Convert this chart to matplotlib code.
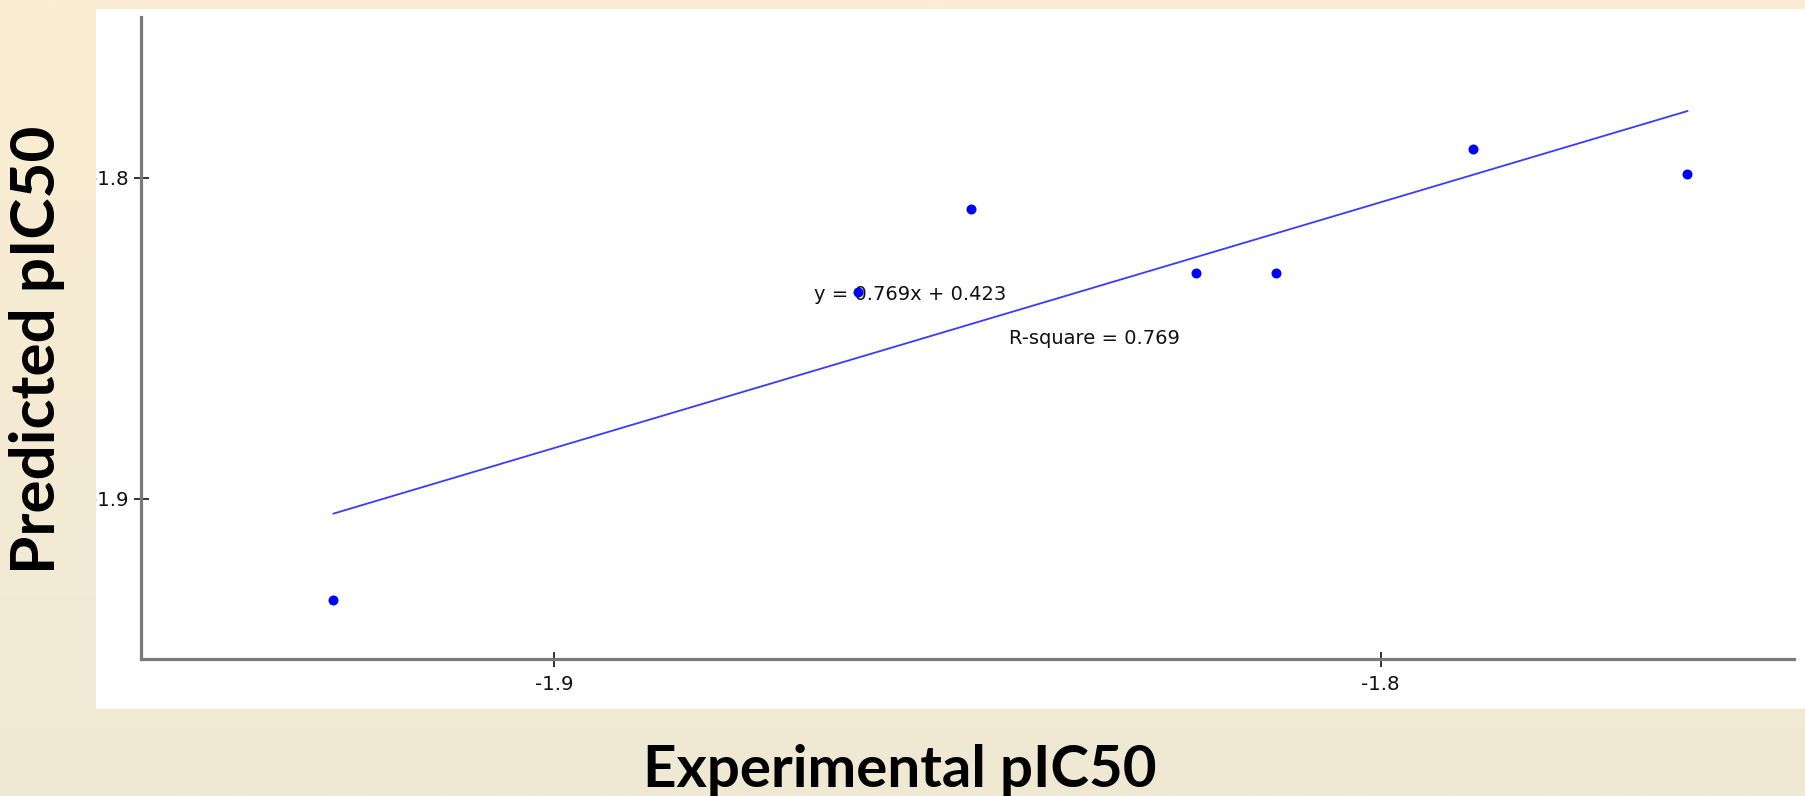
import numpy as np
import matplotlib
matplotlib.use('Agg')
import matplotlib.pyplot as plt
from matplotlib.patches import Rectangle

# ---- data ----
exp_pic50 = [-1.9268, -1.8633, -1.8496, -1.8223, -1.8127, -1.7888, -1.7629]
pred_pic50 = [-1.9315, -1.8357, -1.8099, -1.8296, -1.8299, -1.7910, -1.7988]
fit_x = [-1.9267, -1.7629]
fit_y = [-1.9047, -1.7793]
x_ticks = [-1.9, -1.8]
y_ticks = [-1.9, -1.8]
x_tick_labels = ['-1.9', '-1.8']
y_tick_labels = ['-1.9', '-1.8']
equation_text = 'y = 0.769x + 0.423'
r2_text = 'R-square = 0.769'
x_label = 'Experimental pIC50'
y_label = 'Predicted pIC50'

plt.rcParams['axes.unicode_minus'] = False

W, H = 1806, 796
fig = plt.figure(figsize=(W / 100, H / 100), dpi=100)

# ---- background gradient ----
top_c = np.array([251, 237, 211]) / 255.0
bot_c = np.array([239, 233, 213]) / 255.0
g = np.linspace(0, 1, 256)[:, None, None]
grad_img = top_c[None, None, :] * (1 - g) + bot_c[None, None, :] * g

bg = fig.add_axes([0, 0, 1, 1], zorder=-10)
bg.imshow(grad_img, aspect='auto', extent=[0, 1, 0, 1], interpolation='bilinear')
bg.set_xlim(0, 1); bg.set_ylim(0, 1)
bg.set_axis_off()
bg.add_patch(Rectangle((96 / W, 1 - 709 / H), 1 - 96 / W, (709 - 9) / H,
                       transform=bg.transAxes, facecolor='white', edgecolor='none'))

# ---- main axes ----
ax_l, ax_r, ax_t, ax_b = 141, 1794, 17, 659
ax = fig.add_axes([ax_l / W, 1 - ax_b / H, (ax_r - ax_l) / W, (ax_b - ax_t) / H], zorder=0)
ax.set_facecolor('none')
ax.set_xlim(-1.95, -1.75)
ax.set_ylim(-1.95, -1.75)

for s in ['top', 'right']:
    ax.spines[s].set_visible(False)
for s in ['left', 'bottom']:
    ax.spines[s].set_color('#7a7a7a')
    ax.spines[s].set_linewidth(2.3)

ax.set_xticks(x_ticks, labels=x_tick_labels)
ax.set_yticks(y_ticks, labels=y_tick_labels)
ax.tick_params(axis='both', direction='inout', length=10.8, width=1.3, color='#222222',
               labelsize=14.2, labelcolor='#111111')
ax.tick_params(axis='x', pad=6.0)
ax.tick_params(axis='y', pad=3.6)

ax.plot(fit_x, fit_y, color='#3a3aff', lw=1.3, zorder=2)
ax.plot(exp_pic50, pred_pic50, 'o', color='#0000ff', ms=7.2, mec='none', zorder=3)

ax.text(-1.8686, -1.8364, equation_text, fontsize=14.0, color='#111111',
        ha='left', va='center', zorder=1)
ax.text(-1.8450, -1.8502, r2_text, fontsize=14.0, color='#111111',
        ha='left', va='center', zorder=1)

# ---- left strip overlay (clips the tick-label minus sign like the reference) ----
strip = fig.add_axes([0, 0, 96 / W, 1], zorder=5)
strip.imshow(grad_img, aspect='auto', extent=[0, 1, 0, 1], interpolation='bilinear')
strip.set_xlim(0, 1); strip.set_ylim(0, 1)
strip.set_axis_off()

# ---- axis titles (figure text, fitted to the reference widths) ----
lab_font = ['Lato', 'DejaVu Sans']
xl = fig.text(900 / W, 1 - 787 / H, x_label, fontsize=40, fontweight='bold',
              family=lab_font, ha='center', va='baseline', color='black', zorder=10)
yl = fig.text(37 / W, 1 - 350 / H, y_label, fontsize=40, fontweight='bold',
              family=lab_font, ha='center', va='center', rotation=90,
              color='black', zorder=10)

fig.canvas.draw()
r = fig.canvas.get_renderer()
wx = xl.get_window_extent(r).width
xl.set_fontsize(40 * 514 / wx)
hy = yl.get_window_extent(r).height
yl.set_fontsize(40 * 448 / hy)

fig.savefig('out.png', dpi=100)
